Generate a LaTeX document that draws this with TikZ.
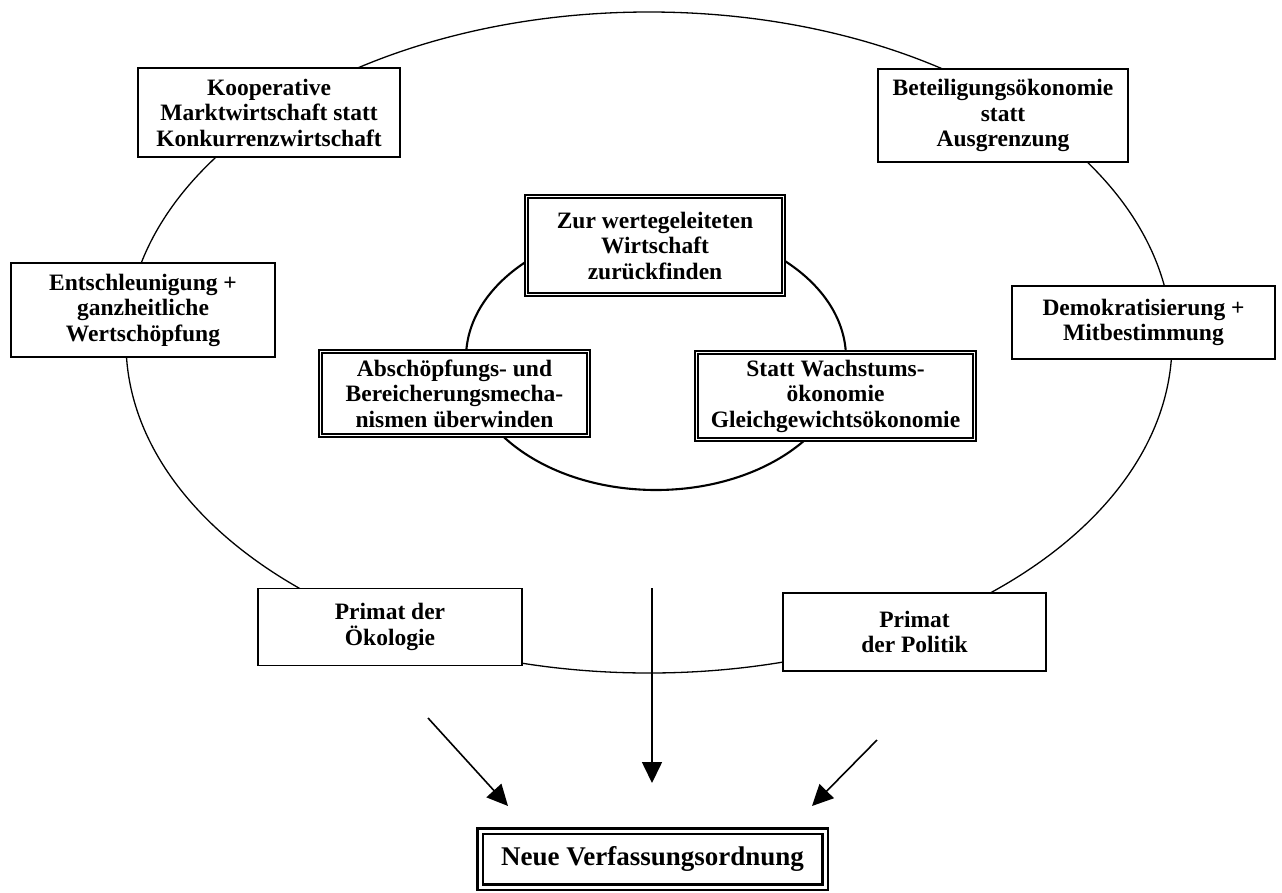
\documentclass[tikz,border=0pt]{standalone}
\usepackage{fontspec}
\setmainfont{Liberation Serif}
\usetikzlibrary{arrows.meta}
\begin{document}
\begin{tikzpicture}[x=1pt,y=-1pt,
  lbl/.style={align=center,font=\fontsize{23.5}{25.5}\selectfont\bfseries,inner sep=0pt},
  box/.style={lbl,draw,line width=1.4pt,fill=white},
  dbox/.style={lbl,draw,fill=white,line width=1.9pt,double=white,double distance=1.5pt},
  mainbox/.style={align=center,font=\fontsize{27}{30}\selectfont\bfseries,inner sep=0pt,
    draw,fill=white,line width=2.4pt,double=white,double distance=3pt},
  ring/.style={draw,line width=1.3pt},
  arr/.style={line width=1.6pt,-{Triangle[length=21pt,width=20pt]}}]
\useasboundingbox (0,0) rectangle (1282,892);
% rings
\draw[ring] (649,342.5) ellipse [x radius=523pt, y radius=330.5pt];
\draw[ring,line width=2.1pt] (656,358) ellipse [x radius=190pt, y radius=132pt];
% outer boxes
\node[box,minimum width=262pt,minimum height=89pt] (koop) at (269,112.5)
  {Kooperative\\Marktwirtschaft statt\\Konkurrenzwirtschaft};
\node[box,minimum width=250pt,minimum height=93pt] (betei) at (1003,115.5)
  {Beteiligungsökonomie\\statt\\Ausgrenzung};
\node[box,minimum width=264pt,minimum height=94pt] (ents) at (143,310)
  {Entschleunigung +\\ganzheitliche\\Wertschöpfung};
\node[box,minimum width=263pt,minimum height=73pt] (demo) at (1143.5,322.5)
  {Demokratisierung +\\Mitbestimmung};
\node[box,minimum width=264pt,minimum height=77pt] (oek) at (390,627)
  {Primat der\\Ökologie};
\node[box,minimum width=263pt,minimum height=78pt] (pol) at (914.5,632)
  {Primat\\der Politik};
% inner boxes
\node[dbox,minimum width=257pt,minimum height=98pt] (zur) at (655,245.5)
  {Zur wertegeleiteten\\Wirtschaft\\zurückfinden};
\node[dbox,minimum width=268pt,minimum height=84pt] (absch) at (454.5,393.5)
  {Abschöpfungs- und\\Bereicherungsmecha-\\nismen überwinden};
\node[dbox,minimum width=278pt,minimum height=87pt] (statt) at (835.5,396)
  {Statt Wachstums-\\ökonomie\\Gleichgewichtsökonomie};
% result
\node[mainbox,minimum width=345pt,minimum height=56pt] (neue) at (652.5,859)
  {Neue Verfassungsordnung};
% arrows
\coordinate (a1s) at (428,718);
\coordinate (a1e) at (508,806);
\coordinate (a2s) at (652,588);
\coordinate (a2e) at (652,783);
\coordinate (a3s) at (877,740);
\coordinate (a3e) at (812,806);
\draw[arr] (a1s) -- (a1e);
\draw[arr] (a2s) -- (a2e);
\draw[arr] (a3s) -- (a3e);
\end{tikzpicture}
\end{document}
